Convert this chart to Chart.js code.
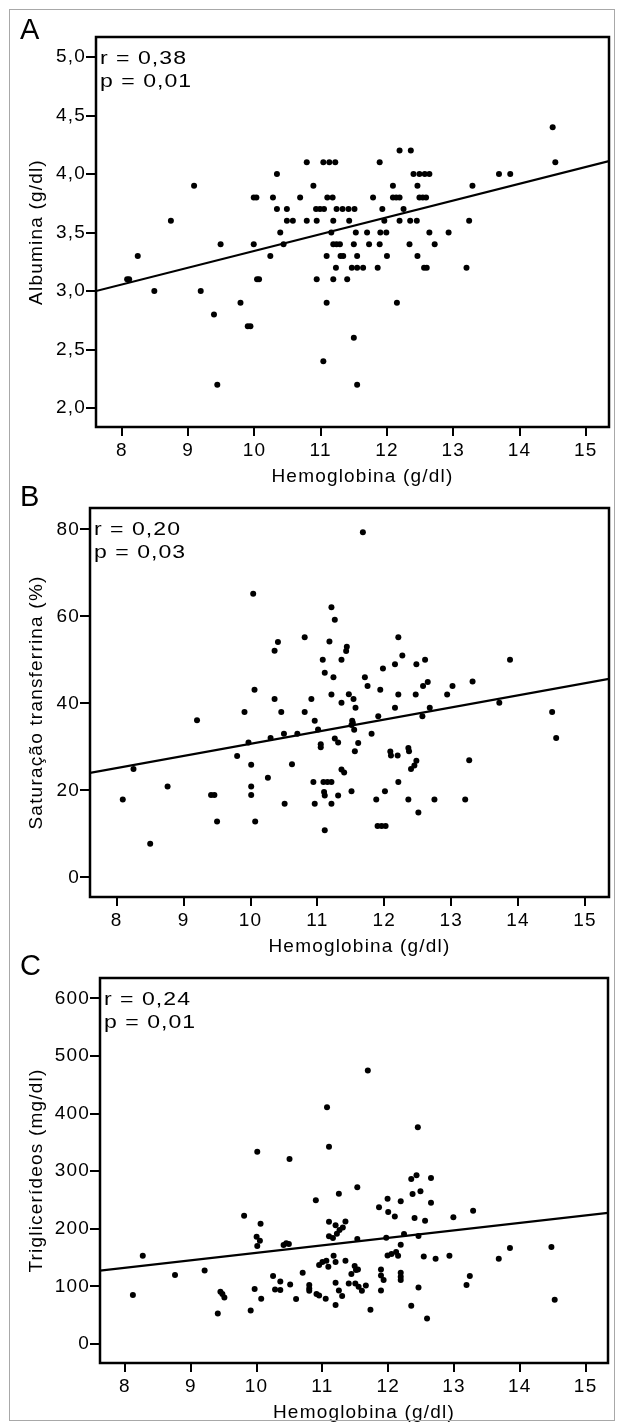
<!DOCTYPE html>
<html><head><meta charset="utf-8">
<script src="https://cdn.jsdelivr.net/npm/chart.js@4.4.1/dist/chart.umd.min.js"></script>
<style>
html,body{margin:0;padding:0;background:#fff;}
body{width:617px;height:1422px;position:relative;overflow:hidden;}
#frame{position:absolute;left:9px;top:9px;width:606px;height:1412px;border:1px solid #a8a8a8;box-sizing:border-box;pointer-events:none;z-index:5;}
canvas{position:absolute;left:0;}
</style></head><body>
<canvas id="cA" width="617" height="500" style="top:0px"></canvas>
<canvas id="cB" width="617" height="490" style="top:480px"></canvas>
<canvas id="cC" width="617" height="477" style="top:945px"></canvas>
<div id="frame"></div>
<script>
// ---------- DATA ----------
const xTicks = [8, 9, 10, 11, 12, 13, 14, 15];

const yTicksA = [2.0, 2.5, 3.0, 3.5, 4.0, 4.5, 5.0];
const yLabelsA = ['2,0', '2,5', '3,0', '3,5', '4,0', '4,5', '5,0'];
const yTicksB = [0, 20, 40, 60, 80];
const yLabelsB = ['0', '20', '40', '60', '80'];
const yTicksC = [0, 100, 200, 300, 400, 500, 600];
const yLabelsC = ['0', '100', '200', '300', '400', '500', '600'];

const hbA = [8.08,8.11,8.24,8.49,8.74,9.09,9.19,9.39,9.44,9.49,
9.79,9.90,9.94,9.99,9.99,10.03,10.04,10.07,10.24,10.28,
10.34,10.34,10.39,10.44,10.49,10.49,10.58,10.69,10.79,10.79,
10.89,10.93,10.94,10.94,10.99,11.04,11.04,11.05,11.09,11.09,
11.10,11.13,11.16,11.18,11.19,11.19,11.19,11.22,11.23,11.24,
11.24,11.29,11.30,11.33,11.34,11.40,11.42,11.43,11.47,11.50,
11.50,11.51,11.53,11.55,11.55,11.55,11.64,11.70,11.73,11.79,
11.86,11.89,11.89,11.90,11.93,11.96,11.99,12.00,12.09,12.09,
12.14,12.15,12.19,12.19,12.19,12.25,12.34,12.35,12.36,12.40,
12.45,12.46,12.46,12.49,12.49,12.54,12.56,12.57,12.59,12.60,
12.64,12.64,12.72,12.93,13.20,13.24,13.29,13.69,13.86,14.50,14.54];
const albA = [3.1,3.1,3.3,3.0,3.6,3.9,3.0,2.8,2.2,3.4,
2.9,2.7,2.7,3.4,3.8,3.8,3.1,3.1,3.3,3.8,
4.0,3.7,3.5,3.4,3.7,3.6,3.6,3.8,3.6,4.1,
3.9,3.7,3.6,3.1,3.7,4.1,2.4,3.7,3.3,2.9,
3.8,4.1,3.5,3.8,3.6,3.4,3.1,4.1,3.2,3.7,
3.4,3.4,3.3,3.7,3.3,3.1,3.7,3.6,3.2,3.4,
2.6,3.7,3.5,3.3,3.2,2.2,3.2,3.5,3.4,3.8,
3.2,4.1,3.4,3.5,3.7,3.6,3.5,3.3,3.9,3.8,
3.8,2.9,4.2,3.8,3.6,3.7,3.4,3.6,4.2,4.0,
3.6,3.9,3.3,4.0,3.8,3.8,3.2,4.0,3.8,3.2,
4.0,3.5,3.4,3.5,3.2,3.6,3.9,4.0,4.0,4.4,4.1];
const fitXA = [7.61, 15.35];
const fitYA = [3.0, 4.11];

const hbB = [8.09,8.25,8.50,8.76,9.20,9.41,9.46,9.50,9.80,9.91,
9.97,10.01,10.01,10.01,10.04,10.06,10.07,10.26,10.30,10.36,
10.36,10.41,10.46,10.50,10.51,10.62,10.70,10.81,10.81,10.91,
10.94,10.96,10.96,11.01,11.05,11.05,11.08,11.09,11.10,11.11,
11.11,11.11,11.15,11.18,11.21,11.21,11.21,11.21,11.24,11.26,
11.26,11.31,11.31,11.36,11.36,11.36,11.40,11.43,11.44,11.47,
11.51,11.51,11.52,11.53,11.54,11.55,11.56,11.57,11.61,11.68,
11.71,11.75,11.81,11.88,11.90,11.91,11.94,11.96,11.98,12.01,
12.02,12.09,12.10,12.16,12.16,12.20,12.21,12.21,12.21,12.27,
12.36,12.36,12.37,12.40,12.45,12.47,12.48,12.48,12.51,12.57,
12.58,12.61,12.65,12.68,12.75,12.94,13.02,13.21,13.27,13.32,
13.72,13.88,14.51,14.57];
const satB = [17.9,24.9,7.7,20.9,36.1,18.9,18.9,12.8,27.9,38.0,
31.0,25.9,20.9,18.9,65.2,43.1,12.8,22.9,32.0,52.1,
41.0,54.1,38.0,33.0,16.9,26.0,33.0,55.2,38.0,41.0,
21.9,36.0,16.9,34.0,30.6,29.9,50.0,21.9,19.6,47.0,
18.8,10.8,21.9,54.2,62.1,42.0,21.9,16.9,46.0,59.2,
31.9,31.0,18.8,50.0,40.1,24.8,24.1,52.0,53.0,42.1,
35.0,19.8,36.0,35.5,41.0,33.9,29.0,39.0,30.9,79.3,
46.0,44.0,33.0,17.9,11.8,37.0,43.1,11.8,48.0,19.8,
11.8,28.9,28.0,49.0,39.0,28.0,55.2,42.0,21.9,51.0,
29.7,17.9,29.0,24.9,25.7,42.0,49.0,26.8,14.9,37.0,
44.0,50.0,44.9,39.0,17.9,42.0,44.0,17.9,26.9,45.0,
40.1,50.0,38.0,32.0];
const fitXB = [7.60, 15.36];
const fitYB = [24.0, 45.6];

const hbC = [8.12,8.27,8.76,9.21,9.41,9.45,9.48,9.51,9.81,9.91,
9.97,10.00,10.01,10.01,10.05,10.06,10.07,10.25,10.28,10.36,
10.36,10.41,10.45,10.49,10.50,10.51,10.60,10.70,10.80,10.80,
10.80,10.90,10.91,10.95,10.95,11.00,11.05,11.06,11.07,11.09,
11.10,11.10,11.10,11.16,11.17,11.20,11.20,11.20,11.20,11.22,
11.25,11.25,11.26,11.30,11.31,11.35,11.35,11.40,11.44,11.49,
11.50,11.51,11.53,11.53,11.54,11.55,11.60,11.66,11.69,11.73,
11.86,11.89,11.89,11.89,11.93,11.97,11.99,11.99,12.00,12.05,
12.10,12.12,12.15,12.19,12.19,12.19,12.19,12.19,12.24,12.35,
12.35,12.37,12.40,12.43,12.45,12.46,12.46,12.49,12.54,12.56,
12.59,12.65,12.65,12.72,12.93,12.99,13.19,13.24,13.29,13.68,
13.85,14.48,14.53];
const tgC = [85.1,153.4,119.8,127.9,53.2,90.8,86.8,81.0,222.8,58.4,
95.5,186.3,333.9,170.1,179.4,208.9,78.7,118.0,94.9,108.8,
93.8,171.9,174.8,173.6,321.2,103.6,78.1,123.8,102.4,96.6,
92.6,249.4,86.8,137.1,84.5,142.3,78.7,144.7,410.9,134.2,
342.6,212.4,187.0,184.0,153.4,206.0,142.3,106.5,67.7,191.5,
261.0,93.2,197.9,83.3,202.5,212.9,144.7,105.3,121.5,135.4,
105.3,128.5,272.0,182.3,129.6,99.5,92.6,101.8,474.5,59.6,
237.3,129.6,119.2,93.2,111.1,184.6,252.3,153.9,229.2,156.3,
221.6,159.7,153.4,247.7,172.4,123.8,116.9,111.1,191.0,286.4,
66.5,260.4,218.7,292.8,376.1,187.5,98.4,265.0,152.2,214.1,
44.5,288.2,245.4,148.1,153.4,219.9,102.4,118.0,231.5,148.1,
166.6,168.4,77.0];
const fitXC = [7.62, 15.34];
const fitYC = [127.3, 227.7];

// ---------- RENDERING ----------
const FONT = '"Liberation Sans", Arial, Helvetica, sans-serif';
Chart.defaults.font.family = FONT;
Chart.defaults.font.size = 19;
Chart.defaults.color = '#000';

const deco = {
  id: 'deco',
  beforeDraw(chart) { chart.ctx.letterSpacing = '1.2px'; },
  afterDraw(chart, args, o) {
    const ctx = chart.ctx, a = chart.chartArea;
    ctx.save();
    ctx.strokeStyle = '#000';
    ctx.lineWidth = 2.5;
    ctx.strokeRect(a.left, a.top, a.right - a.left, a.bottom - a.top);
    ctx.fillStyle = '#000';
    ctx.textBaseline = 'alphabetic';
    ctx.textAlign = 'left';
    ctx.font = '18px ' + FONT;
    ctx.letterSpacing = '0.8px';
    o.stats.forEach((t, i) => {
      ctx.save();
      ctx.translate(a.left + 4, a.top + 27 + i * 23);
      ctx.scale(1.28, 1);
      ctx.fillText(t, 0, 0);
      ctx.restore();
    });
    ctx.font = '19px ' + FONT;
    ctx.letterSpacing = '1.2px';
    ctx.textAlign = 'center';
    ctx.fillText(o.xTitle, (a.left + a.right) / 2 + 10, a.bottom + 55);
    ctx.letterSpacing = '0px';
    ctx.textAlign = 'left';
    ctx.font = '29px ' + FONT;
    ctx.fillText(o.letter, 20, o.letterY);
    ctx.restore();
  }
};

function makePanel(id, p) {
  const XH = 30;
  const pts = p.xs.map((x, i) => ({x: x, y: p.ys[i]}));
  const fit = p.fx.map((x, i) => ({x: x, y: p.fy[i]}));
  const label = (ticks, labels) => (v) => { const i = ticks.indexOf(v); return i >= 0 ? labels[i] : ''; };
  new Chart(document.getElementById(id), {
    type: 'scatter',
    data: {
      datasets: [
        {data: pts, backgroundColor: '#000', borderWidth: 0, pointRadius: 3, pointHoverRadius: 3},
        {data: fit, showLine: true, borderColor: '#000', borderWidth: 2.2, pointRadius: 0, fill: false}
      ]
    },
    options: {
      responsive: false,
      animation: false,
      devicePixelRatio: 1,
      events: [],
      layout: {padding: {left: 0, right: 617 - p.right, top: p.top - p.cTop, bottom: p.cTop + p.cH - p.bottom - XH}},
      plugins: {
        legend: {display: false},
        tooltip: {enabled: false},
        deco: {letter: p.letter, stats: p.stats, xTitle: 'Hemoglobina (g/dl)', letterY: p.letterBase - p.cTop}
      },
      scales: {
        x: {
          type: 'linear', min: p.xmin, max: p.xmax,
          afterBuildTicks: (s) => { s.ticks = xTicks.map(v => ({value: v})); },
          afterFit: (s) => { s.height = XH; },
          ticks: {padding: 3, maxRotation: 0, autoSkip: false, callback: (v) => String(v), font: {size: 19}},
          grid: {display: true, drawOnChartArea: false, drawTicks: true, tickLength: 9, tickColor: '#000', tickWidth: 2, color: '#000', lineWidth: 2},
          border: {display: false}
        },
        y: {
          type: 'linear', min: p.ymin, max: p.ymax,
          afterBuildTicks: (s) => { s.ticks = p.yt.map(v => ({value: v})); },
          afterFit: (s) => { s.width = p.left; },
          ticks: {padding: 0, autoSkip: false, callback: label(p.yt, p.yl), font: {size: 19}},
          grid: {display: true, drawOnChartArea: false, drawTicks: true, tickLength: 10, tickColor: '#000', tickWidth: 2, color: '#000', lineWidth: 2},
          border: {display: false},
          title: {display: true, text: p.yTitle, font: {size: 19}, padding: {top: 25, bottom: 0}, color: '#000'}
        }
      }
    },
    plugins: [deco]
  });
}

makePanel('cA', {cTop: 0, cH: 500, left: 96, right: 609, top: 37, bottom: 427, letterBase: 39,
  xmin: 7.61, xmax: 15.35, ymin: 1.838, ymax: 5.171, yt: yTicksA, yl: yLabelsA,
  xs: hbA, ys: albA, fx: fitXA, fy: fitYA, letter: 'A', stats: ['r = 0,38', 'p = 0,01'], yTitle: 'Albumina (g/dl)'});
makePanel('cB', {cTop: 480, cH: 490, left: 90, right: 609, top: 508, bottom: 897, letterBase: 506,
  xmin: 7.60, xmax: 15.36, ymin: -4.53, ymax: 84.9, yt: yTicksB, yl: yLabelsB,
  xs: hbB, ys: satB, fx: fitXB, fy: fitYB, letter: 'B', stats: ['r = 0,20', 'p = 0,03'], yTitle: 'Saturação transferrina (%)'});
makePanel('cC', {cTop: 945, cH: 477, left: 100, right: 608, top: 978, bottom: 1363, letterBase: 975,
  xmin: 7.62, xmax: 15.34, ymin: -32.8, ymax: 635.2, yt: yTicksC, yl: yLabelsC,
  xs: hbC, ys: tgC, fx: fitXC, fy: fitYC, letter: 'C', stats: ['r = 0,24', 'p = 0,01'], yTitle: 'Triglicerídeos (mg/dl)'});
</script>
</body></html>
